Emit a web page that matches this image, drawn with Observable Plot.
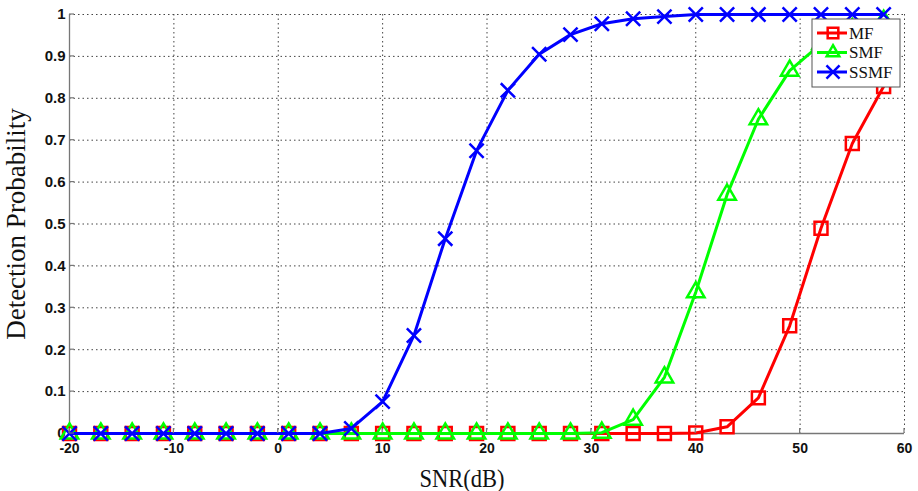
<!DOCTYPE html>
<html>
<head>
<meta charset="utf-8">
<script src="https://cdn.jsdelivr.net/npm/d3@7"></script>
<script src="https://cdn.jsdelivr.net/npm/@observablehq/plot@0.6"></script>
<style>
  html, body { margin: 0; padding: 0; background: #fff; }
  #chart { position: relative; width: 918px; height: 491px; }
</style>
</head>
<body>
<div id="chart"></div>
<script>
const snr = [-20,-17,-14,-11,-8,-5,-2,1,4,7,10,13,16,19,22,25,28,31,34,37,40,43,46,49,52,55,58];
const mf   = [0,0,0,0,0,0,0,0,0,0,0,0,0,0,0,0,0,0,0,0,0.001,0.016,0.085,0.257,0.49,0.692,0.828];
const smf  = [0,0,0,0,0,0,0,0,0,0,0,0,0,0,0,0,0,0.002,0.033,0.134,0.337,0.57,0.75,0.866,0.93,0.965,0.985];
const ssmf = [0,0,0,0,0,0,0,0,0,0.012,0.076,0.234,0.465,0.675,0.819,0.905,0.952,0.978,0.99,0.995,1,1,1,1,1,1,1];
const seriesNames = ["MF","SMF","SSMF"];
const seriesColors = ["#ff0000","#00ff00","#0000ff"];
const seriesSymbols = ["square","triangle","times"];
const seriesRadii = [7.3, 6.5, 6.5];
const xTicks = [-20,-10,0,10,20,30,40,50,60];
const xTickLabels = ["-20","-10","0","10","20","30","40","50","60"];
const yTicks = [0,0.1,0.2,0.3,0.4,0.5,0.6,0.7,0.8,0.9,1];
const yTickLabels = ["0","0.1","0.2","0.3","0.4","0.5","0.6","0.7","0.8","0.9","1"];

const allSeries = [mf, smf, ssmf];
const rows = [];
allSeries.forEach((vals, k) => vals.forEach((v, i) => rows.push({x: snr[i], y: v, s: seriesNames[k]})));

const tickFont = "Liberation Sans, Arial, sans-serif";
const labelFont = "Liberation Serif, Times New Roman, serif";

const marks = [
  Plot.ruleX(xTicks, {stroke: "#444", strokeDasharray: "1.5,3", strokeWidth: 1}),
  Plot.ruleY(yTicks, {stroke: "#444", strokeDasharray: "1.5,3", strokeWidth: 1}),
  Plot.ruleX([-20], {stroke: "#777", strokeWidth: 1.3}),
  Plot.ruleY([0], {stroke: "#777", strokeWidth: 1.3}),
  Plot.axisX({ticks: xTicks, tickFormat: (d, i) => xTickLabels[i], tickSize: 0, tickPadding: 10, label: null,
    fontFamily: tickFont, fontWeight: "bold", fontSize: 14, fill: "#111"}),
  Plot.axisY({ticks: yTicks, tickFormat: (d, i) => yTickLabels[i], tickSize: 0, tickPadding: 4, label: null,
    fontFamily: tickFont, fontWeight: "bold", fontSize: 15, fill: "#111"}),
  Plot.text(["SNR(dB)"], {frameAnchor: "bottom", text: d => d, textAnchor: "middle", lineAnchor: "middle", dy: 45, dx: -25,
    fontFamily: labelFont, fontSize: 26, fill: "#111", className: "lbl-x"}),
  Plot.text(["Detection Probability"], {frameAnchor: "left", text: d => d, textAnchor: "middle", lineAnchor: "middle", dx: -53, rotate: -90,
    fontFamily: labelFont, fontSize: 27, fill: "#111"})
];
seriesNames.forEach((name, k) => {
  const data = rows.filter(r => r.s === name);
  marks.push(Plot.line(data, {x: "x", y: "y", stroke: seriesColors[k], strokeWidth: 3}));
  marks.push(Plot.dot(data, {x: "x", y: "y", stroke: seriesColors[k], symbol: () => seriesSymbols[k],
    r: seriesRadii[k], strokeWidth: 2.5, fill: "none"}));
});

const chart = Plot.plot({
  width: 918, height: 491,
  marginLeft: 69, marginRight: 14, marginTop: 14, marginBottom: 58,
  x: {domain: [-20, 60]},
  y: {domain: [0, 1]},
  symbol: {type: "identity"},
  style: {background: "#fff", overflow: "visible"},
  marks
});
document.getElementById("chart").appendChild(chart);

const svg = d3.select(chart);
// compress the x-axis title horizontally, as in the reference
svg.selectAll(".lbl-x text").attr("textLength", 85).attr("lengthAdjust", "spacingAndGlyphs");

// small inward tick marks on left and bottom axes
const xS = chart.scale("x"), yS = chart.scale("y");
const tg = svg.append("g").attr("stroke", "#777").attr("stroke-width", 1.2);
yTicks.forEach(t => tg.append("line").attr("x1", 69).attr("x2", 74)
  .attr("y1", yS.apply(t)).attr("y2", yS.apply(t)));
xTicks.forEach(t => tg.append("line").attr("x1", xS.apply(t)).attr("x2", xS.apply(t))
  .attr("y1", 433).attr("y2", 428));

// legend box
const lg = svg.append("g").attr("transform", "translate(812,19)");
lg.append("rect").attr("width", 88).attr("height", 68).attr("fill", "#fff").attr("stroke", "#555").attr("stroke-width", 1);
const symMap = {square: d3.symbolSquare, triangle: d3.symbolTriangle2, times: d3.symbolTimes};
seriesNames.forEach((name, k) => {
  const y = 14 + k * 19.5;
  lg.append("line").attr("x1", 5).attr("x2", 35).attr("y1", y).attr("y2", y)
    .attr("stroke", seriesColors[k]).attr("stroke-width", 3);
  const rr = 6;
  lg.append("path").attr("transform", `translate(21,${y})`)
    .attr("d", d3.symbol(symMap[seriesSymbols[k]], Math.PI * rr * rr)())
    .attr("fill", "none").attr("stroke", seriesColors[k]).attr("stroke-width", 2.5);
  lg.append("text").attr("x", 37).attr("y", y).attr("dy", "0.35em")
    .attr("text-anchor", "start")
    .attr("font-family", labelFont).attr("font-size", 17)
    .attr("fill", "#111").text(name);
});
</script>
</body>
</html>
